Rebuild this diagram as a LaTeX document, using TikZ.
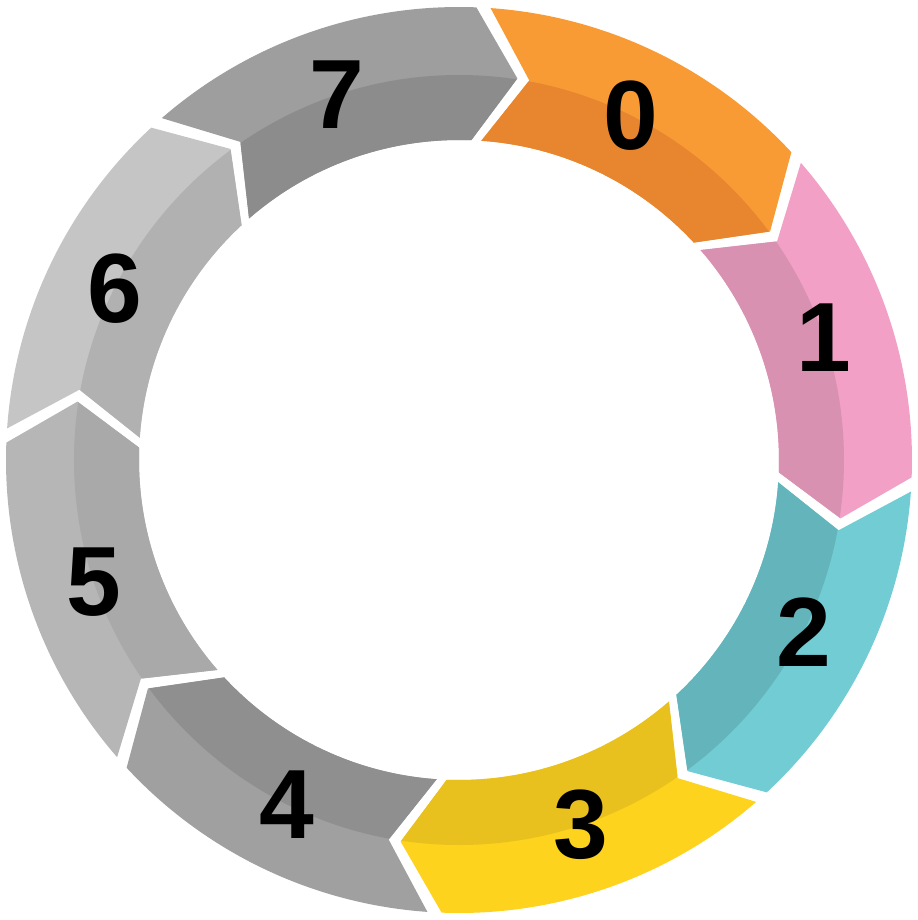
\documentclass[tikz,border=0pt]{standalone}
\usepackage{fontspec}
\setmainfont{Liberation Sans}
\definecolor{l0}{HTML}{F89B35}\definecolor{d0}{HTML}{E8862F}
\definecolor{l1}{HTML}{F2A0C6}\definecolor{d1}{HTML}{D991B2}
\definecolor{l2}{HTML}{72CCD3}\definecolor{d2}{HTML}{64B5BB}
\definecolor{l3}{HTML}{FDD31E}\definecolor{d3}{HTML}{E8C11E}
\definecolor{l4}{HTML}{A0A0A0}\definecolor{d4}{HTML}{8F8F8F}
\definecolor{l5}{HTML}{B6B6B6}\definecolor{d5}{HTML}{A9A9A9}
\definecolor{l6}{HTML}{C5C5C5}\definecolor{d6}{HTML}{B1B1B1}
\definecolor{l7}{HTML}{9E9E9E}\definecolor{d7}{HTML}{8C8C8C}
\tikzset{lab/.style={font=\fontsize{56}{60}\selectfont\bfseries,text=black}}
\begin{document}
\begin{tikzpicture}[x=0.02cm,y=0.02cm]
\useasboundingbox (-459,-460) rectangle (459,460);
\def\R{453}\def\r{320}\def\m{386}\def\g{1.8}\def\d{6.5}
\foreach \k in {0,...,7}{
  \pgfmathsetmacro{\a}{86-45*\k}
  \pgfmathsetmacro{\b}{\a-45+\g}
  \pgfmathsetmacro{\t}{\b-\d}
  \pgfmathsetmacro{\n}{\a-\d}
  \pgfmathsetmacro{\c}{\a-22.5}
  \begin{scope}
    \path[clip] (\a:\R) arc[start angle=\a, end angle=\b, radius=\R] -- (\t:\m) -- (\b:\r)
      arc[start angle=\b, end angle=\a, radius=\r] -- (\n:\m) -- cycle;
    \fill[l\k] (0,0) circle (\R+5);
    \fill[d\k] (0,0) circle (385);
  \end{scope}
  \node[lab] (n\k) at (\c:385) {\k};
}
\end{tikzpicture}
\end{document}
